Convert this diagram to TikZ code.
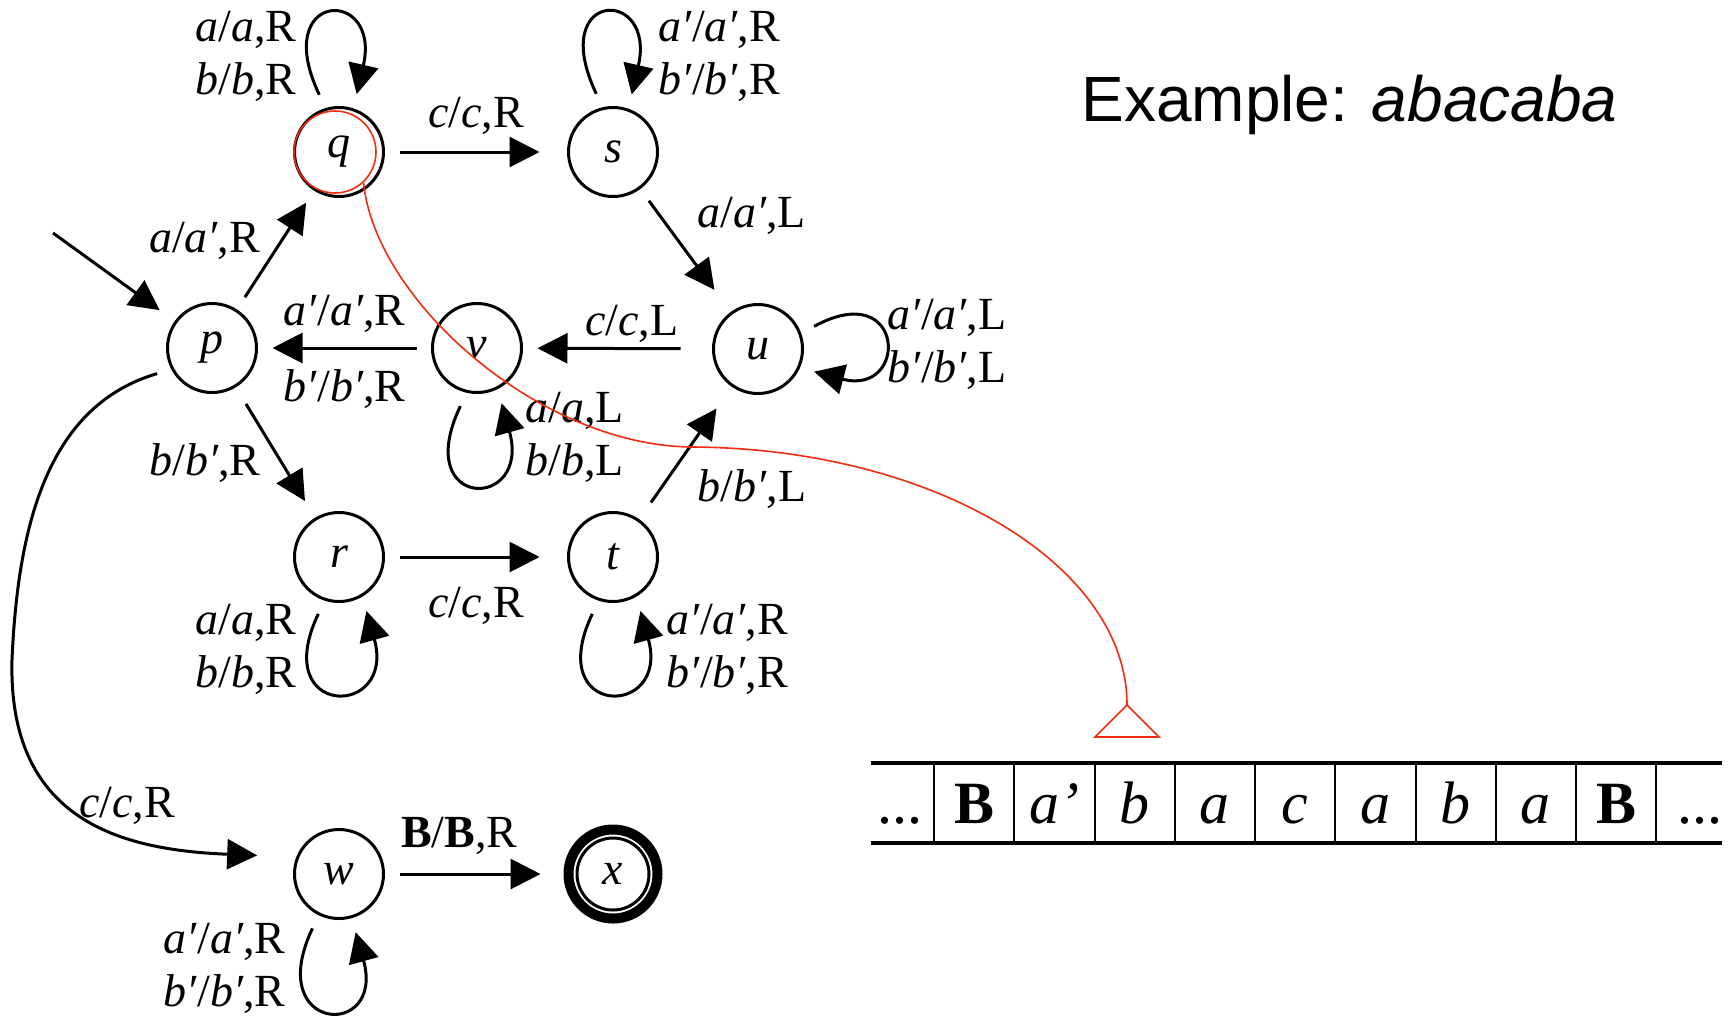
\documentclass[tikz,border=0pt]{standalone}
\usepackage{fontspec}
\setmainfont{Liberation Serif}
\newfontfamily\titlefont{Liberation Sans}
\usetikzlibrary{arrows.meta}
\definecolor{headred}{RGB}{240,45,15}
\newcommand{\labfont}{\fontsize{23}{26.5}\selectfont}
\newcommand{\tapefont}{\fontsize{30}{36}\selectfont}
\newcommand{\tr}[3]{\textit{#1}/\textit{#2},#3}

\begin{document}
\begin{tikzpicture}[x=0.5pt, y=-0.5pt,
  tmstate/.style={circle, draw, line width=1.5pt, minimum size=44.5pt,
                  inner sep=0pt, outer sep=8pt, font=\labfont\itshape},
  arr/.style={-{Triangle[length=15pt, width=15pt]}, line width=1.5pt},
  lab/.style={font=\labfont, inner sep=0pt},
  loopl/.style={lab, align=left, anchor=west},
  loopr/.style={lab, align=right, anchor=east},
  headline/.style={headred, line width=0.8pt},
  tapeline/.style={line width=1.6pt},
  cellsep/.style={line width=1pt}
]
\useasboundingbox (0,0) rectangle (1732,1018);

% states
\node[tmstate] (p) at (212,348) {p};
\node[tmstate] (q) at (339,152) {q};
\node[tmstate] (s) at (613,152) {s};
\node[tmstate] (v) at (477,348) {v};
\node[tmstate] (u) at (758,349) {u};
\node[tmstate] (r) at (339,557) {r};
\node[tmstate] (t) at (613,557) {t};
\node[tmstate] (w) at (339,874) {w};
\node[tmstate, line width=5pt] (x) at (613,874) {x};
\node[circle, draw, line width=1.5pt, minimum size=36pt] (xin) at (x) {};
\coordinate (init) at (53,233);
\coordinate (pwbend) at (12,660);

% transitions
\draw[arr, shorten >=2pt] (init) -- (p);
\draw[arr] (p) -- node[lab, left=10pt, pos=0.6] {\tr{a}{a′}{R}} (q);
\draw[arr, shorten >=6.5pt] (q) -- node[lab, above=8pt] {\tr{c}{c}{R}} (s);
\draw[arr, shorten >=6.5pt] (s) -- node[lab, right=18pt, pos=0.15] {\tr{a}{a′}{L}} (u);
\draw[arr, shorten <=8.5pt] (u) -- node[lab, above=2pt, pos=0.41] {\tr{c}{c}{L}} (v);
\draw[arr] (v) -- node[lab, above=7pt] {\tr{a′}{a′}{R}}
                  node[lab, below=10pt] {\tr{b′}{b′}{R}} (p);
\draw[arr, shorten <=2.5pt, shorten >=2.5pt] (p) -- node[lab, left=10pt, pos=0.6] {\tr{b}{b′}{R}} (r);
\draw[arr, shorten >=6.5pt] (r) -- node[lab, below=14.5pt] {\tr{c}{c}{R}} (t);
\draw[arr, shorten <=3pt, shorten >=6pt] (t) -- node[lab, right=18pt, pos=0.17] {\tr{b}{b′}{L}} (u);
\draw[arr, shorten >=6pt] (w) -- node[lab, above=9pt, pos=0.39] {\textbf{B}/\textbf{B},R} (x);
\draw[arr, shorten >=12pt] (p.205) .. controls (50,405) and (18,520) .. (pwbend)
  .. controls (8,820) and (120,850) .. (w.163);
\node[lab, anchor=base] (pwlab) at (127,817) {\tr{c}{c}{R}};

% loops
\draw[arr] (q.109) .. controls +(-50,-105) and +(25,-108) .. (q.73);
\draw[arr] (s.106) .. controls +(-50,-105) and +(25,-108) .. (s.72);
\draw[arr] (u.22) .. controls +(92,-50) and +(95,25) .. (u.-22);
\draw[arr] (v.254) .. controls +(-50,105) and +(30,108) .. (v.294);
\draw[arr] (r.250) .. controls +(-50,105) and +(30,108) .. (r.297);
\draw[arr] (t.250) .. controls +(-50,105) and +(30,108) .. (t.297);
\draw[arr] (w.244) .. controls +(-50,105) and +(30,108) .. (w.286);
\node[loopr] (qloop) at (297,56) {\tr{a}{a}{R}\\\tr{b}{b}{R}};
\node[loopl] (sloop) at (658,56) {\tr{a′}{a′}{R}\\\tr{b′}{b′}{R}};
\node[loopl] (uloop) at (887,344) {\tr{a′}{a′}{L}\\\tr{b′}{b′}{L}};
\node[loopl] (vloop) at (525,437) {\tr{a}{a}{L}\\\tr{b}{b}{L}};
\node[loopr] (rloop) at (297,649) {\tr{a}{a}{R}\\\tr{b}{b}{R}};
\node[loopl] (tloop) at (666,649) {\tr{a′}{a′}{R}\\\tr{b′}{b′}{R}};
\node[loopr] (wloop) at (286,968) {\tr{a′}{a′}{R}\\\tr{b′}{b′}{R}};

% title
\node[anchor=base west, inner sep=0pt, font=\titlefont\fontsize{32}{38}\selectfont]
  (title) at (1081,121.5) {Example: \textit{abacaba}};

% tape
\draw[tapeline] (871,763) -- (1722,763);
\draw[tapeline] (871,843) -- (1722,843);
\foreach \k in {0,...,9}
  \draw[cellsep] ({934+80.25*\k},763) -- ({934+80.25*\k},843);
\foreach \sym [count=\i from 0] in {\textbf{B}, \textit{a’}, \textit{b}, \textit{a}, \textit{c},
                                     \textit{a}, \textit{b}, \textit{a}, \textbf{B}}
  \node[font=\tapefont, anchor=base, inner sep=0pt] (cell\i) at ({974+80.25*\i},823) {\sym};
\node[font=\tapefont, anchor=base, inner sep=0pt] (dotsL) at (900,823) {...};
\node[font=\tapefont, anchor=base, inner sep=0pt] (dotsR) at (1700,823) {...};

% read head
\node[circle, draw=headred, line width=0.8pt, minimum size=41pt, inner sep=0pt] (headring) at (335,152) {};
\coordinate (headbend) at (694,447);
\coordinate (headtip) at (1127,705);
\draw[headline] (headring.-47) .. controls (375,300) and (540,447) .. (headbend)
  .. controls (933,449) and (1127,564) .. (headtip);
\draw[headline] (headtip) -- ++(-32,32) -- ++(64,0) -- cycle;
\end{tikzpicture}
\end{document}
